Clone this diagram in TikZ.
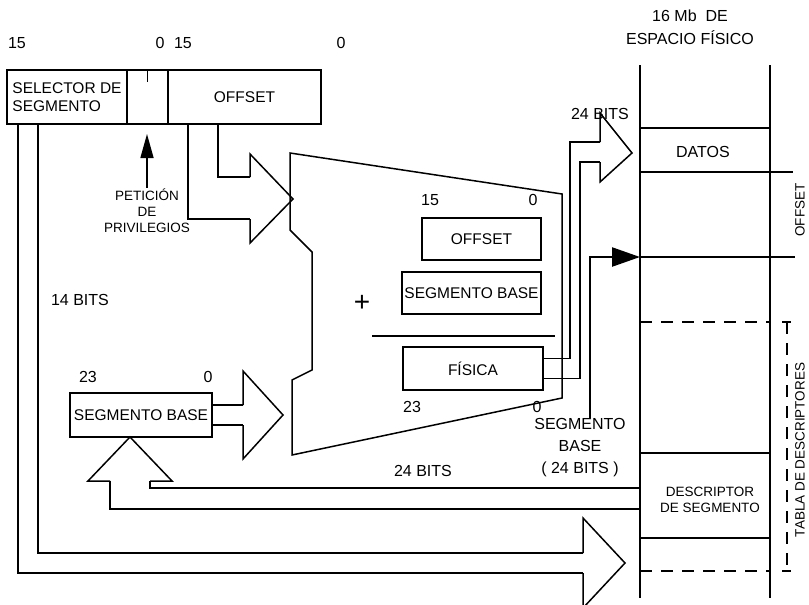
\documentclass[tikz,border=0pt]{standalone}
\usepackage{fontspec}
\setmainfont{Liberation Sans}
\usetikzlibrary{arrows.meta,positioning}
\tikzset{
  regbox/.style={rectangle,draw,line width=1.5pt,outer sep=0pt,inner sep=2pt,
                 font=\fontsize{15.5}{18}\selectfont},
  lbl/.style={inner sep=1pt,align=center,font=\fontsize{16}{22}\selectfont},
  slbl/.style={inner sep=1pt,align=center,font=\fontsize{13.5}{16}\selectfont},
  wire/.style={line width=1.5pt},
  memv/.style={line width=2.4pt},
  dashline/.style={line width=1.5pt,dash pattern=on 12pt off 9pt},
  segarrow/.style={line width=2.4pt,-{Triangle[length=28pt,width=19pt]}},
}

\begin{document}
\begin{tikzpicture}[x=1pt,y=-1pt]
  \useasboundingbox (0,0) rectangle (809,605);

  % selector register
  \node[regbox,minimum width=120pt,minimum height=54pt,align=left,anchor=north west] (sel) at (7,70) {SELECTOR DE\\SEGMENTO};
  \node[regbox,minimum width=41pt,minimum height=54pt,right=0pt of sel] (rpl) {};
  \node[regbox,minimum width=153pt,minimum height=54pt,right=0pt of rpl] (off) {OFFSET};
  \draw[wire] (rpl.north) -- ++(0,12);
  \node[lbl] (b15a) at (17,43) {15};
  \node[lbl] (b0a) at (160,43) {0};
  \node[lbl] (b15b) at (183,43) {15};
  \node[lbl] (b0b) at (341,43) {0};
  \node[slbl] (pet) at (147,211) {PETICIÓN\\DE\\PRIVILEGIOS};
  \node[lbl] (b14) at (80,300) {14 BITS};

  % adder
  \draw[wire] (290,153) -- (562,194) -- (562,398) -- (292,455) -- (292,380)
    -- (312,370) -- (312,252) -- (290,230) -- cycle;
  \node[regbox,minimum width=119pt,minimum height=42pt] (ioff) at (481.5,239) {OFFSET};
  \node[regbox,minimum width=139pt,minimum height=42pt] (isb) at (471.5,293) {SEGMENTO BASE};
  \node[regbox,minimum width=140pt,minimum height=43pt] (fis) at (473,368.5) {FÍSICA};
  \node[lbl] (i15) at (430,200) {15};
  \node[lbl] (i0a) at (533,200) {0};
  \node[lbl] (i23) at (412,407) {23};
  \node[lbl] (i0b) at (537,407) {0};
  \node[font=\fontsize{28}{28}\selectfont,inner sep=0pt] (plus) at (362,303) {+};
  \draw[wire] (372,336) -- (555,336);

  % segment base register
  \node[regbox,minimum width=142pt,minimum height=44pt] (sb) at (141,415) {SEGMENTO BASE};
  \node[lbl] (s23) at (88,377) {23};
  \node[lbl] (s0) at (208,377) {0};

  % memory
  \draw[memv] (640,65) -- (640,598);
  \draw[memv] (770,65) -- (770,598);
  \draw[wire] (640,128) -- (770,128);
  \draw[wire] (640,172) -- (793,172);
  \draw[wire] (640,257) -- (795,257);
  \draw[dashline] (640,322) -- (770,322);
  \draw[wire] (640,453) -- (770,453);
  \draw[wire] (640,538) -- (770,538);
  \draw[dashline] (640,571) -- (770,571);
  \draw[wire] (782,322) -- (791,322);
  \draw[dashline] (787,322) -- (787,571);
  \draw[wire] (782,571) -- (791,571);
  \node[lbl,font=\fontsize{16}{23}\selectfont] (esp) at (690,27) {16 Mb\ \ DE\\ESPACIO FÍSICO};
  \node[lbl] (datos) at (703,152) {DATOS};
  \node[slbl] (desc) at (710,500) {DESCRIPTOR\\DE SEGMENTO};
  \node[slbl,rotate=90] (moff) at (800,210) {OFFSET};
  \node[slbl,rotate=90] (tabla) at (800,450) {TABLA DE DESCRIPTORES};
  \node[lbl] (b24a) at (600,114) {24 BITS};
  \node[lbl] (b24b) at (423,471) {24 BITS};
  \node[lbl] (sbl) at (580,448) {SEGMENTO\\BASE\\( 24 BITS )};

  % selector -> descriptor table
  \coordinate (bot1) at (583,553);
  \coordinate (bot2) at (583,573);
  \draw[wire] ([xshift=31pt]sel.south west) |- (bot1);
  \draw[wire] ([xshift=11pt]sel.south west) |- (bot2);
  \draw[wire] (bot1) -- ++(0,-35) -- ++(42,45) -- ++(-42,45) -- (bot2);

  % offset -> adder
  \coordinate (up1) at (250,177);
  \coordinate (up2) at (250,219);
  \draw[wire] ([xshift=50pt]off.south west) |- (up1);
  \draw[wire] ([xshift=20pt]off.south west) |- (up2);
  \draw[wire] (up1) -- ++(0,-23) -- ++(43,45) -- ++(-43,44) -- (up2);

  % privilege request
  \draw[wire,-{Triangle[length=24pt,width=13pt]},shorten >=10pt] (pet.north) -- (pet.north |- rpl.south);

  % segment base -> adder
  \coordinate (lo1) at (243,405);
  \coordinate (lo2) at (243,425);
  \draw[wire] (sb.east |- lo1) -- (lo1);
  \draw[wire] (sb.east |- lo2) -- (lo2);
  \draw[wire] (lo1) -- ++(0,-34) -- ++(40,44) -- ++(-40,44) -- (lo2);

  % physical address -> data
  \coordinate (dt1) at (600,142);
  \coordinate (dt2) at (600,162);
  \draw[wire] ([yshift=10pt]fis.east) -| (570,142) -- (dt1);
  \draw[wire] ([yshift=-10pt]fis.east) -| (580,162) -- (dt2);
  \draw[wire] (dt1) -- ++(0,-29) -- ++(32,40) -- ++(-32,29) -- (dt2);

  % segment base -> memory
  \coordinate (segin) at (640,257);
  \draw[segarrow] ([xshift=10pt]sbl.north) |- (segin);

  % descriptor -> segment base
  \coordinate (dsc1) at (640,488);
  \coordinate (dsc2) at (640,509);
  \coordinate (sbw1) at (150,481);
  \coordinate (sbw2) at (110,481);
  \draw[wire] (dsc1) -| (sbw1);
  \draw[wire] (dsc2) -| (sbw2);
  \draw[wire] (sbw2) -- ++(-22,0) -- ([xshift=-11pt]sb.south) -- (172,481) -- (sbw1);
\end{tikzpicture}
\end{document}
